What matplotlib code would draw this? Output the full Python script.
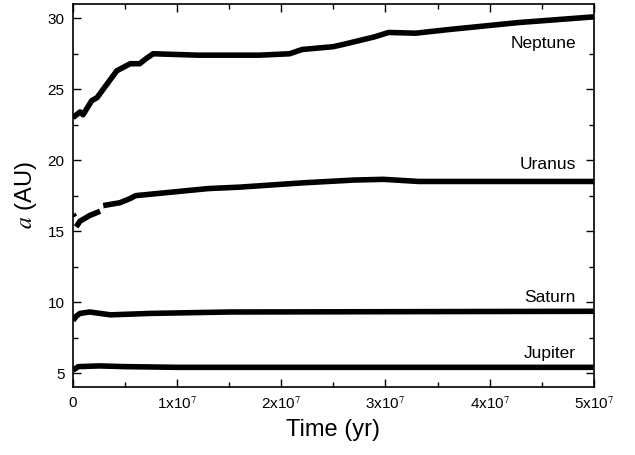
import numpy as np
import matplotlib
matplotlib.use("Agg")
import matplotlib.pyplot as plt
from matplotlib.ticker import MultipleLocator, FixedLocator

plt.rcParams['font.family'] = ['Liberation Sans', 'DejaVu Sans']
plt.rcParams['mathtext.fontset'] = 'stix'

# semi-major axis evolution (time in yr, a in AU)
t_nep = [0, 0.67e6, 0.96e6, 1.8e6, 2.3e6, 2.9e6, 4.2e6, 5.5e6, 6.4e6, 7.1e6, 7.7e6,
         1.2e7, 1.79e7, 2.08e7, 2.2e7, 2.5e7, 2.62e7, 2.9e7, 3.03e7, 3.29e7,
         3.6e7, 4.28e7, 5.0e7]
a_nep = [23.0, 23.4, 23.2, 24.2, 24.4, 25.0, 26.3, 26.8, 26.8, 27.2, 27.5,
         27.4, 27.4, 27.5, 27.8, 28.0, 28.2, 28.7, 29.0, 28.95,
         29.2, 29.7, 30.1]

t_ura = [0, 0.15e6, np.nan, 0.3e6, 0.67e6, 1.6e6, 2.6e6, np.nan, 2.9e6, 4.5e6,
         5.5e6, 6.0e6, 7.4e6, 1.02e7, 1.3e7, 1.6e7, 2.2e7, 2.7e7, 2.98e7,
         3.32e7, 5.0e7]
a_ura = [16.2, 16.0, np.nan, 15.3, 15.7, 16.1, 16.4, np.nan, 16.8, 17.0,
         17.3, 17.5, 17.6, 17.8, 18.0, 18.1, 18.4, 18.6, 18.65,
         18.5, 18.5]

t_sat = [0, 0.3e6, 0.67e6, 1.6e6, 2.6e6, 3.6e6, 7.4e6, 1.5e7, 5.0e7]
a_sat = [8.7, 9.0, 9.2, 9.3, 9.2, 9.1, 9.2, 9.3, 9.35]

t_jup = [0, 0.5e6, 2.5e6, 5e6, 1e7, 5.0e7]
a_jup = [5.2, 5.45, 5.5, 5.45, 5.4, 5.4]

names = ['Neptune', 'Uranus', 'Saturn', 'Jupiter']
label_y = [28.2, 19.7, 10.3, 6.4]

xticks = [0, 1e7, 2e7, 3e7, 4e7, 5e7]
xticklabels = ['0', '1x10$^7$', '2x10$^7$', '3x10$^7$', '4x10$^7$', '5x10$^7$']

fig = plt.figure(figsize=(6.35, 4.55), dpi=100)
ax = fig.add_axes([0.115, 0.149, 0.82, 0.842])

for t, a in [(t_nep, a_nep), (t_ura, a_ura), (t_sat, a_sat), (t_jup, a_jup)]:
    ax.plot(t, a, color='black', lw=4, solid_capstyle='butt')

for name, y in zip(names, label_y):
    ax.text(4.83e7, y, name, ha='right', va='center', fontsize=12.5)

ax.set_xlim(0, 5e7)
ax.set_ylim(4, 31)
ax.xaxis.set_major_locator(FixedLocator(xticks))
ax.set_xticklabels(xticklabels)
ax.xaxis.set_minor_locator(MultipleLocator(5e6))
ax.yaxis.set_major_locator(MultipleLocator(5))
ax.yaxis.set_minor_locator(MultipleLocator(2.5))
ax.tick_params(which='both', direction='in', top=True, right=True, labelsize=11,
               width=1, pad=6)
ax.tick_params(which='major', length=6)
ax.tick_params(which='minor', length=3.5)
for sp in ax.spines.values():
    sp.set_linewidth(1.2)

ax.set_xlabel('Time (yr)', fontsize=17, labelpad=5)
ax.set_ylabel('$a$ (AU)', fontsize=17, labelpad=6)

fig.savefig('out.png', dpi=100)
